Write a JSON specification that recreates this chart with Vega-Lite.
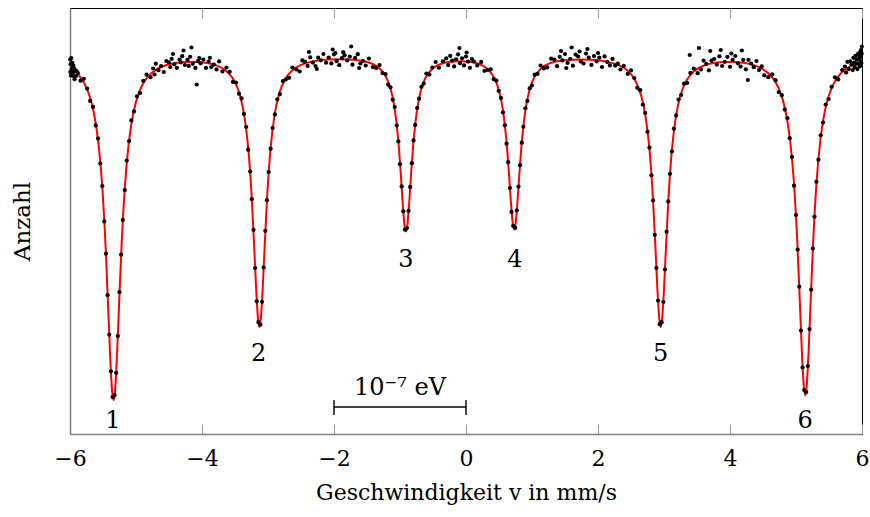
{
"$schema": "https://vega.github.io/schema/vega-lite/v6.json",
"width": 792, "height": 426,
"autosize": {"type": "none"},
"padding": {"left": 70, "top": 8, "right": 8, "bottom": 83},
"background": "white",
"config": {"view": {"stroke": "#000", "strokeWidth": 1}, "font": "DejaVu Serif", "axis": {"grid": false}},
"datasets": {
"fit": [
{"v":-6.0,"anzahl":366.4},{"v":-5.92,"anzahl":362.4},{"v":-5.84,"anzahl":356.7},{"v":-5.74,"anzahl":344.7},{"v":-5.64,"anzahl":321.8},{"v":-5.57,"anzahl":291.3},{"v":-5.51,"anzahl":246.2},{"v":-5.46,"anzahl":186.6},{"v":-5.42,"anzahl":123.8},{"v":-5.39,"anzahl":75.6},{"v":-5.36,"anzahl":41.3},{"v":-5.34,"anzahl":33.9},{"v":-5.32,"anzahl":41.2},{"v":-5.29,"anzahl":75.5},{"v":-5.26,"anzahl":123.7},{"v":-5.22,"anzahl":186.4},{"v":-5.17,"anzahl":245.9},{"v":-5.11,"anzahl":290.9},{"v":-5.04,"anzahl":321.2},{"v":-4.94,"anzahl":344.0},{"v":-4.84,"anzahl":355.7},{"v":-4.69,"anzahl":364.6},{"v":-4.55,"anzahl":368.7},{"v":-4.4,"anzahl":371.0},{"v":-4.25,"anzahl":372.1},{"v":-4.1,"anzahl":372.1},{"v":-3.95,"anzahl":371.2},
{"v":-3.78,"anzahl":368.6},{"v":-3.63,"anzahl":362.9},{"v":-3.53,"anzahl":355.2},{"v":-3.43,"anzahl":340.0},{"v":-3.36,"anzahl":318.9},{"v":-3.30,"anzahl":286.2},{"v":-3.25,"anzahl":240.5},{"v":-3.21,"anzahl":188.6},{"v":-3.18,"anzahl":145.9},{"v":-3.15,"anzahl":114.0},{"v":-3.13,"anzahl":106.9},{"v":-3.11,"anzahl":114.0},{"v":-3.08,"anzahl":146.0},{"v":-3.05,"anzahl":188.7},{"v":-3.01,"anzahl":240.7},{"v":-2.96,"anzahl":286.4},{"v":-2.90,"anzahl":319.2},{"v":-2.83,"anzahl":340.4},{"v":-2.73,"anzahl":355.8},{"v":-2.63,"anzahl":363.6},{"v":-2.48,"anzahl":369.6},{"v":-2.3,"anzahl":372.8},{"v":-2.1,"anzahl":374.4},{"v":-1.9,"anzahl":374.8},{"v":-1.7,"anzahl":374.2},
{"v":-1.56,"anzahl":373.0},{"v":-1.41,"anzahl":369.8},{"v":-1.31,"anzahl":365.6},{"v":-1.21,"anzahl":356.8},{"v":-1.14,"anzahl":344.7},{"v":-1.08,"anzahl":325.1},{"v":-1.03,"anzahl":296.5},{"v":-0.99,"anzahl":261.8},{"v":-0.96,"anzahl":231.7},{"v":-0.93,"anzahl":207.9},{"v":-0.91,"anzahl":202.5},{"v":-0.89,"anzahl":207.9},{"v":-0.86,"anzahl":231.7},{"v":-0.83,"anzahl":261.8},{"v":-0.79,"anzahl":296.4},{"v":-0.74,"anzahl":325.0},{"v":-0.68,"anzahl":344.6},{"v":-0.61,"anzahl":356.6},{"v":-0.51,"anzahl":365.2},{"v":-0.41,"anzahl":369.3},{"v":-0.26,"anzahl":372.0},{"v":-0.1,"anzahl":372.7},
{"v":0.08,"anzahl":372.1},{"v":0.23,"anzahl":369.1},{"v":0.33,"anzahl":364.7},{"v":0.43,"anzahl":355.8},{"v":0.50,"anzahl":343.5},{"v":0.56,"anzahl":323.7},{"v":0.61,"anzahl":295.1},{"v":0.65,"anzahl":261.2},{"v":0.68,"anzahl":232.2},{"v":0.71,"anzahl":209.6},{"v":0.73,"anzahl":204.5},{"v":0.75,"anzahl":209.6},{"v":0.78,"anzahl":232.2},{"v":0.81,"anzahl":261.3},{"v":0.85,"anzahl":295.1},{"v":0.90,"anzahl":323.9},{"v":0.96,"anzahl":343.6},{"v":1.03,"anzahl":356.1},{"v":1.13,"anzahl":365.1},{"v":1.23,"anzahl":369.6},{"v":1.38,"anzahl":372.8},{"v":1.55,"anzahl":374.1},{"v":1.75,"anzahl":374.5},{"v":1.95,"anzahl":373.9},{"v":2.15,"anzahl":372.0},
{"v":2.30,"anzahl":369.3},{"v":2.45,"anzahl":363.2},{"v":2.55,"anzahl":355.1},{"v":2.65,"anzahl":339.3},{"v":2.72,"anzahl":317.7},{"v":2.78,"anzahl":284.5},{"v":2.83,"anzahl":238.5},{"v":2.87,"anzahl":186.9},{"v":2.90,"anzahl":144.9},{"v":2.93,"anzahl":113.8},{"v":2.95,"anzahl":106.9},{"v":2.97,"anzahl":113.8},{"v":3.00,"anzahl":144.8},{"v":3.03,"anzahl":186.8},{"v":3.07,"anzahl":238.4},{"v":3.12,"anzahl":284.3},{"v":3.18,"anzahl":317.4},{"v":3.25,"anzahl":338.9},{"v":3.35,"anzahl":354.6},{"v":3.45,"anzahl":362.5},{"v":3.60,"anzahl":368.4},{"v":3.75,"anzahl":370.9},{"v":3.9,"anzahl":372.1},{"v":4.05,"anzahl":372.1},{"v":4.2,"anzahl":371.2},{"v":4.35,"anzahl":369.0},
{"v":4.49,"anzahl":365.1},{"v":4.64,"anzahl":356.6},{"v":4.74,"anzahl":345.3},{"v":4.84,"anzahl":323.4},{"v":4.91,"anzahl":294.0},{"v":4.97,"anzahl":250.2},{"v":5.02,"anzahl":191.6},{"v":5.06,"anzahl":129.3},{"v":5.09,"anzahl":80.9},{"v":5.12,"anzahl":46.3},{"v":5.14,"anzahl":38.8},{"v":5.16,"anzahl":46.3},{"v":5.19,"anzahl":81.0},{"v":5.22,"anzahl":129.4},{"v":5.26,"anzahl":191.9},{"v":5.31,"anzahl":250.5},{"v":5.37,"anzahl":294.5},{"v":5.44,"anzahl":324.0},{"v":5.54,"anzahl":346.1},{"v":5.64,"anzahl":357.6},{"v":5.79,"anzahl":366.5},{"v":5.9,"anzahl":370.2},{"v":6.0,"anzahl":372.4}
],
"punkte": [
{"v":-5.998,"anzahl":374.5},{"v":-5.995,"anzahl":362.0},{"v":-5.99,"anzahl":369.8},{"v":-5.985,"anzahl":358.5},{"v":-5.98,"anzahl":376.0},{"v":-5.975,"anzahl":364.0},{"v":-5.97,"anzahl":359.9},{"v":-5.965,"anzahl":371.2},{"v":-5.96,"anzahl":366.6},{"v":-5.955,"anzahl":361.2},{"v":-5.95,"anzahl":368.5},{"v":-5.94,"anzahl":357.7},{"v":-5.935,"anzahl":365.3},{"v":-5.93,"anzahl":354.8},{"v":-5.92,"anzahl":363.5},{"v":-5.91,"anzahl":358.0},{"v":-5.90,"anzahl":362.8},{"v":-5.88,"anzahl":361.0},
{"v":-5.84,"anzahl":353.3},{"v":-5.79,"anzahl":355.2},{"v":-5.74,"anzahl":345.4},{"v":-5.695,"anzahl":333.1},{"v":-5.65,"anzahl":327.1},{"v":-5.61,"anzahl":308.6},{"v":-5.575,"anzahl":295.5},{"v":-5.54,"anzahl":270.5},{"v":-5.51,"anzahl":248.0},{"v":-5.48,"anzahl":212.6},{"v":-5.455,"anzahl":180.3},{"v":-5.43,"anzahl":138.8},{"v":-5.405,"anzahl":99.4},{"v":-5.38,"anzahl":62.7},{"v":-5.355,"anzahl":37.0},
{"v":-5.325,"anzahl":39.0},{"v":-5.30,"anzahl":61.2},{"v":-5.275,"anzahl":97.9},{"v":-5.25,"anzahl":141.8},{"v":-5.225,"anzahl":179.3},{"v":-5.20,"anzahl":214.1},{"v":-5.17,"anzahl":244.0},{"v":-5.14,"anzahl":273.5},{"v":-5.105,"anzahl":293.0},{"v":-5.07,"anzahl":313.6},{"v":-5.03,"anzahl":322.6},{"v":-4.985,"anzahl":337.6},{"v":-4.94,"anzahl":340.9},{"v":-4.89,"anzahl":353.2},{"v":-4.84,"anzahl":359.3},{"v":-4.78,"anzahl":356.8},
{"v":-4.74,"anzahl":365.5},{"v":-4.72,"anzahl":359.5},{"v":-4.70,"anzahl":370.3},{"v":-4.66,"anzahl":363.8},{"v":-4.62,"anzahl":368.0},{"v":-4.58,"anzahl":362.0},{"v":-4.54,"anzahl":372.9},{"v":-4.50,"anzahl":371.6},{"v":-4.48,"anzahl":366.9},{"v":-4.46,"anzahl":375.2},{"v":-4.44,"anzahl":380.0},{"v":-4.42,"anzahl":369.7},{"v":-4.38,"anzahl":366.2},{"v":-4.34,"anzahl":374.5},{"v":-4.32,"anzahl":371.7},{"v":-4.30,"anzahl":377.8},{"v":-4.28,"anzahl":383.5},{"v":-4.26,"anzahl":369.0},{"v":-4.22,"anzahl":374.1},{"v":-4.20,"anzahl":368.1},{"v":-4.18,"anzahl":377.2},{"v":-4.16,"anzahl":386.5},{"v":-4.14,"anzahl":370.2},{"v":-4.10,"anzahl":366.1},{"v":-4.08,"anzahl":349.5},{"v":-4.06,"anzahl":373.0},{"v":-4.04,"anzahl":375.9},{"v":-4.02,"anzahl":370.7},{"v":-3.98,"anzahl":374.4},{"v":-3.94,"anzahl":366.1},{"v":-3.90,"anzahl":372.5},{"v":-3.88,"anzahl":376.2},{"v":-3.86,"anzahl":366.9},{"v":-3.82,"anzahl":369.4},{"v":-3.78,"anzahl":364.6},{"v":-3.74,"anzahl":372.6},
{"v":-3.69,"anzahl":362.5},{"v":-3.63,"anzahl":366.5},{"v":-3.58,"anzahl":362.2},{"v":-3.53,"anzahl":352.1},{"v":-3.485,"anzahl":351.5},{"v":-3.44,"anzahl":340.3},{"v":-3.40,"anzahl":335.7},{"v":-3.365,"anzahl":320.1},{"v":-3.33,"anzahl":307.0},{"v":-3.30,"anzahl":284.3},{"v":-3.27,"anzahl":262.4},{"v":-3.245,"anzahl":234.8},{"v":-3.22,"anzahl":204.2},{"v":-3.195,"anzahl":166.0},{"v":-3.17,"anzahl":132.7},{"v":-3.145,"anzahl":111.8},
{"v":-3.115,"anzahl":109.3},{"v":-3.09,"anzahl":132.2},{"v":-3.065,"anzahl":166.5},{"v":-3.04,"anzahl":203.2},{"v":-3.015,"anzahl":233.8},{"v":-2.99,"anzahl":261.9},{"v":-2.96,"anzahl":285.3},{"v":-2.93,"anzahl":306.0},{"v":-2.895,"anzahl":319.6},{"v":-2.86,"anzahl":334.7},{"v":-2.82,"anzahl":339.8},{"v":-2.775,"anzahl":353.0},{"v":-2.73,"anzahl":354.6},{"v":-2.68,"anzahl":356.2},{"v":-2.63,"anzahl":366.5},{"v":-2.57,"anzahl":364.5},
{"v":-2.52,"anzahl":362.5},{"v":-2.48,"anzahl":373.6},{"v":-2.44,"anzahl":372.4},{"v":-2.40,"anzahl":368.1},{"v":-2.38,"anzahl":382.0},{"v":-2.36,"anzahl":376.7},{"v":-2.32,"anzahl":371.4},{"v":-2.28,"anzahl":367.9},{"v":-2.26,"anzahl":365.0},{"v":-2.24,"anzahl":376.3},{"v":-2.20,"anzahl":373.7},{"v":-2.16,"anzahl":380.0},{"v":-2.12,"anzahl":371.3},{"v":-2.08,"anzahl":376.5},{"v":-2.04,"anzahl":370.6},{"v":-2.02,"anzahl":384.5},{"v":-2.00,"anzahl":379.7},{"v":-1.98,"anzahl":381.0},{"v":-1.96,"anzahl":372.8},{"v":-1.92,"anzahl":368.8},{"v":-1.88,"anzahl":375.8},{"v":-1.86,"anzahl":381.8},{"v":-1.84,"anzahl":378.7},{"v":-1.80,"anzahl":373.6},{"v":-1.76,"anzahl":377.5},{"v":-1.74,"anzahl":387.5},{"v":-1.72,"anzahl":369.3},{"v":-1.68,"anzahl":376.1},{"v":-1.64,"anzahl":379.8},{"v":-1.62,"anzahl":366.0},{"v":-1.60,"anzahl":370.5},{"v":-1.56,"anzahl":373.0},{"v":-1.52,"anzahl":368.5},
{"v":-1.47,"anzahl":375.5},{"v":-1.41,"anzahl":366.9},{"v":-1.36,"anzahl":366.0},{"v":-1.31,"anzahl":369.0},{"v":-1.265,"anzahl":360.9},{"v":-1.22,"anzahl":360.0},{"v":-1.18,"anzahl":349.4},{"v":-1.145,"anzahl":346.7},{"v":-1.11,"anzahl":334.3},{"v":-1.08,"anzahl":327.0},{"v":-1.05,"anzahl":308.6},{"v":-1.025,"anzahl":292.6},{"v":-1.00,"anzahl":269.8},{"v":-0.975,"anzahl":247.6},{"v":-0.95,"anzahl":222.7},{"v":-0.925,"anzahl":204.4},
{"v":-0.895,"anzahl":205.9},{"v":-0.87,"anzahl":223.2},{"v":-0.845,"anzahl":247.1},{"v":-0.82,"anzahl":270.8},{"v":-0.795,"anzahl":293.6},{"v":-0.77,"anzahl":309.1},{"v":-0.74,"anzahl":326.0},{"v":-0.71,"anzahl":335.3},{"v":-0.675,"anzahl":347.2},{"v":-0.64,"anzahl":350.4},{"v":-0.60,"anzahl":360.5},{"v":-0.555,"anzahl":359.4},{"v":-0.51,"anzahl":366.5},{"v":-0.46,"anzahl":372.0},{"v":-0.41,"anzahl":366.3},{"v":-0.35,"anzahl":372.7},
{"v":-0.30,"anzahl":375.6},{"v":-0.27,"anzahl":368.9},{"v":-0.24,"anzahl":378.2},{"v":-0.21,"anzahl":373.4},{"v":-0.18,"anzahl":367.6},{"v":-0.15,"anzahl":374.7},{"v":-0.12,"anzahl":379.7},{"v":-0.10,"anzahl":386.0},{"v":-0.09,"anzahl":370.8},{"v":-0.06,"anzahl":375.7},{"v":-0.03,"anzahl":368.6},{"v":0.00,"anzahl":377.5},{"v":0.01,"anzahl":381.5},{"v":0.03,"anzahl":372.4},{"v":0.06,"anzahl":366.2},{"v":0.09,"anzahl":375.0},{"v":0.12,"anzahl":372.5},
{"v":0.17,"anzahl":368.6},{"v":0.23,"anzahl":372.1},{"v":0.28,"anzahl":363.2},{"v":0.33,"anzahl":364.0},{"v":0.375,"anzahl":364.7},{"v":0.42,"anzahl":354.8},{"v":0.46,"anzahl":353.5},{"v":0.495,"anzahl":343.2},{"v":0.53,"anzahl":336.1},{"v":0.56,"anzahl":321.7},{"v":0.59,"anzahl":308.7},{"v":0.615,"anzahl":290.3},{"v":0.64,"anzahl":271.8},{"v":0.665,"anzahl":245.9},{"v":0.69,"anzahl":222.1},{"v":0.715,"anzahl":208.2},
{"v":0.745,"anzahl":206.2},{"v":0.77,"anzahl":223.6},{"v":0.795,"anzahl":247.4},{"v":0.82,"anzahl":268.8},{"v":0.845,"anzahl":291.3},{"v":0.87,"anzahl":307.2},{"v":0.90,"anzahl":325.7},{"v":0.93,"anzahl":333.1},{"v":0.965,"anzahl":345.7},{"v":1.00,"anzahl":348.5},{"v":1.04,"anzahl":359.3},{"v":1.085,"anzahl":360.2},{"v":1.13,"anzahl":368.5},{"v":1.18,"anzahl":365.6},{"v":1.23,"anzahl":366.6},{"v":1.29,"anzahl":375.3},
{"v":1.34,"anzahl":374.4},{"v":1.38,"anzahl":367.8},{"v":1.42,"anzahl":377.2},{"v":1.44,"anzahl":383.0},{"v":1.46,"anzahl":373.6},{"v":1.50,"anzahl":379.9},{"v":1.52,"anzahl":366.0},{"v":1.54,"anzahl":371.1},{"v":1.58,"anzahl":375.2},{"v":1.60,"anzahl":386.5},{"v":1.62,"anzahl":368.3},{"v":1.66,"anzahl":379.4},{"v":1.70,"anzahl":377.5},{"v":1.72,"anzahl":382.5},{"v":1.74,"anzahl":372.5},{"v":1.78,"anzahl":370.5},{"v":1.82,"anzahl":380.4},{"v":1.84,"anzahl":385.0},{"v":1.86,"anzahl":376.3},{"v":1.90,"anzahl":369.1},{"v":1.94,"anzahl":377.9},{"v":1.98,"anzahl":372.7},{"v":2.00,"anzahl":381.0},{"v":2.02,"anzahl":376.4},{"v":2.06,"anzahl":367.0},{"v":2.10,"anzahl":377.6},{"v":2.14,"anzahl":372.1},{"v":2.18,"anzahl":368.6},{"v":2.22,"anzahl":375.1},{"v":2.26,"anzahl":368.4},{"v":2.30,"anzahl":370.3},{"v":2.34,"anzahl":364.5},
{"v":2.39,"anzahl":368.1},{"v":2.45,"anzahl":360.1},{"v":2.50,"anzahl":363.6},{"v":2.55,"anzahl":356.0},{"v":2.595,"anzahl":346.2},{"v":2.64,"anzahl":343.8},{"v":2.68,"anzahl":329.4},{"v":2.715,"anzahl":321.1},{"v":2.75,"anzahl":302.3},{"v":2.78,"anzahl":286.4},{"v":2.81,"anzahl":258.7},{"v":2.835,"anzahl":233.6},{"v":2.86,"anzahl":199.2},{"v":2.885,"anzahl":166.0},{"v":2.91,"anzahl":133.5},{"v":2.935,"anzahl":109.8},
{"v":2.965,"anzahl":111.8},{"v":2.99,"anzahl":132.0},{"v":3.015,"anzahl":164.5},{"v":3.04,"anzahl":202.2},{"v":3.065,"anzahl":232.6},{"v":3.09,"anzahl":260.2},{"v":3.12,"anzahl":282.4},{"v":3.15,"anzahl":305.3},{"v":3.185,"anzahl":318.6},{"v":3.22,"anzahl":334.4},{"v":3.26,"anzahl":339.0},{"v":3.305,"anzahl":350.3},{"v":3.35,"anzahl":351.1},{"v":3.39,"anzahl":379.0},{"v":3.40,"anzahl":361.1},{"v":3.45,"anzahl":365.5},{"v":3.51,"anzahl":360.8},{"v":3.53,"anzahl":386.0},
{"v":3.56,"anzahl":364.5},{"v":3.60,"anzahl":373.4},{"v":3.64,"anzahl":370.1},{"v":3.68,"anzahl":363.7},{"v":3.70,"anzahl":383.0},{"v":3.72,"anzahl":373.4},{"v":3.76,"anzahl":375.0},{"v":3.80,"anzahl":369.4},{"v":3.84,"anzahl":377.7},{"v":3.86,"anzahl":384.0},{"v":3.88,"anzahl":368.0},{"v":3.92,"anzahl":372.1},{"v":3.96,"anzahl":377.2},{"v":4.00,"anzahl":367.2},{"v":4.02,"anzahl":380.5},{"v":4.04,"anzahl":374.1},{"v":4.08,"anzahl":378.0},{"v":4.12,"anzahl":370.7},{"v":4.16,"anzahl":367.4},{"v":4.18,"anzahl":383.5},{"v":4.20,"anzahl":374.2},{"v":4.24,"anzahl":364.7},{"v":4.27,"anzahl":354.0},{"v":4.28,"anzahl":374.2},{"v":4.32,"anzahl":370.5},{"v":4.36,"anzahl":366.8},{"v":4.40,"anzahl":372.9},{"v":4.44,"anzahl":363.9},{"v":4.48,"anzahl":367.6},{"v":4.52,"anzahl":358.7},
{"v":4.58,"anzahl":356.8},{"v":4.64,"anzahl":359.6},{"v":4.69,"anzahl":353.8},{"v":4.74,"anzahl":341.8},{"v":4.785,"anzahl":338.8},{"v":4.83,"anzahl":324.4},{"v":4.87,"anzahl":315.8},{"v":4.905,"anzahl":295.8},{"v":4.94,"anzahl":277.1},{"v":4.97,"anzahl":248.3},{"v":5.00,"anzahl":218.9},{"v":5.025,"anzahl":184.5},{"v":5.05,"anzahl":147.3},{"v":5.075,"anzahl":103.4},{"v":5.10,"anzahl":66.5},{"v":5.125,"anzahl":44.0},
{"v":5.155,"anzahl":42.0},{"v":5.18,"anzahl":68.0},{"v":5.205,"anzahl":104.9},{"v":5.23,"anzahl":144.3},{"v":5.255,"anzahl":185.5},{"v":5.28,"anzahl":217.4},{"v":5.31,"anzahl":252.3},{"v":5.34,"anzahl":274.3},{"v":5.375,"anzahl":298.7},{"v":5.41,"anzahl":311.4},{"v":5.45,"anzahl":329.5},{"v":5.495,"anzahl":335.0},{"v":5.54,"anzahl":347.2},{"v":5.59,"anzahl":356.7},{"v":5.64,"anzahl":354.6},{"v":5.70,"anzahl":364.0},
{"v":5.74,"anzahl":367.5},{"v":5.76,"anzahl":361.4},{"v":5.78,"anzahl":372.2},{"v":5.80,"anzahl":364.9},{"v":5.82,"anzahl":372.6},{"v":5.84,"anzahl":369.3},{"v":5.86,"anzahl":363.9},{"v":5.87,"anzahl":376.2},{"v":5.88,"anzahl":371.5},{"v":5.89,"anzahl":366.9},{"v":5.90,"anzahl":378.2},{"v":5.91,"anzahl":370.4},{"v":5.92,"anzahl":374.6},{"v":5.93,"anzahl":364.9},{"v":5.94,"anzahl":380.1},{"v":5.95,"anzahl":374.3},{"v":5.955,"anzahl":369.4},{"v":5.96,"anzahl":377.5},{"v":5.965,"anzahl":381.6},{"v":5.97,"anzahl":367.7},{"v":5.975,"anzahl":376.8},{"v":5.98,"anzahl":372.9},{"v":5.985,"anzahl":384.0},{"v":5.99,"anzahl":371.1},{"v":5.995,"anzahl":380.3},{"v":5.998,"anzahl":387.4}
],
"nummern": [
{"v":-5.35,"anzahl":13,"nr":"1"},{"v":-3.14,"anzahl":80,"nr":"2"},{"v":-0.91,"anzahl":174.5,"nr":"3"},{"v":0.74,"anzahl":174,"nr":"4"},{"v":2.95,"anzahl":80,"nr":"5"},{"v":5.14,"anzahl":13,"nr":"6"}
],
"skala": [{"von":-2,"bis":0,"anzahl":27,"text":"10⁻⁷ eV","mitte":-1,"texthoehe":46}],
"kappen": [{"v":-2,"unten":19,"oben":34},{"v":0,"unten":19,"oben":34}]
},
"layer": [
{"data": {"name": "fit"},
 "mark": {"type": "line", "color": "#ff0000", "strokeWidth": 2, "interpolate": "monotone"},
 "encoding": {
  "x": {"field": "v", "type": "quantitative", "scale": {"domain": [-6, 6], "nice": false, "zero": false},
        "axis": {"orient": "bottom", "values": [-6,-4,-2,0,2,4,6], "tickSize": -10, "tickColor": "#999999", "tickWidth": 1,
                 "labelPadding": 24, "labelFontSize": 22, "labelFont": "DejaVu Serif", "labelColor": "#000", "labelFlush": false, "labelOverlap": false,
                 "domainColor": "#808080", "domainWidth": 1.5,
                 "title": "Geschwindigkeit v in mm/s", "titleFont": "DejaVu Serif", "titleFontSize": 22, "titleFontWeight": "normal", "titleColor": "#000", "titlePadding": 13}},
  "y": {"field": "anzahl", "type": "quantitative", "scale": {"domain": [0, 426], "nice": false, "zero": false},
        "axis": {"labels": false, "ticks": false, "grid": false, "domainColor": "#808080", "domainWidth": 1.5,
                 "title": "Anzahl", "titleFont": "DejaVu Serif", "titleFontSize": 23, "titleFontWeight": "normal", "titleColor": "#000", "titlePadding": 36}}
 }},
{"data": {"name": "punkte"},
 "mark": {"type": "circle", "color": "#000", "size": 18, "opacity": 1},
 "encoding": {
  "x": {"field": "v", "type": "quantitative",
        "axis": {"orient": "top", "values": [-6,-4,-2,0,2,4,6], "tickSize": -10, "tickColor": "#999999", "labels": false, "title": null, "domainColor": "#000", "domainWidth": 1}},
  "y": {"field": "anzahl", "type": "quantitative"}
 }},
{"data": {"name": "nummern"},
 "mark": {"type": "text", "font": "DejaVu Serif", "fontSize": 24, "color": "#000", "baseline": "middle", "align": "center"},
 "encoding": {
  "x": {"field": "v", "type": "quantitative", "axis": null},
  "y": {"field": "anzahl", "type": "quantitative"},
  "text": {"field": "nr"}
 }},
{"data": {"name": "skala"},
 "mark": {"type": "rule", "color": "#000", "strokeWidth": 1.4},
 "encoding": {
  "x": {"field": "von", "type": "quantitative", "axis": null},
  "x2": {"field": "bis"},
  "y": {"field": "anzahl", "type": "quantitative"}
 }},
{"data": {"name": "kappen"},
 "mark": {"type": "rule", "color": "#000", "strokeWidth": 1.4},
 "encoding": {
  "x": {"field": "v", "type": "quantitative", "axis": null},
  "y": {"field": "unten", "type": "quantitative"},
  "y2": {"field": "oben"}
 }},
{"data": {"name": "skala"},
 "mark": {"type": "text", "font": "DejaVu Serif", "fontSize": 24, "color": "#000", "baseline": "middle", "align": "center"},
 "encoding": {
  "x": {"field": "mitte", "type": "quantitative", "axis": null},
  "y": {"field": "texthoehe", "type": "quantitative"},
  "text": {"field": "text"}
 }}
],
"resolve": {"axis": {"x": "independent"}}
}
